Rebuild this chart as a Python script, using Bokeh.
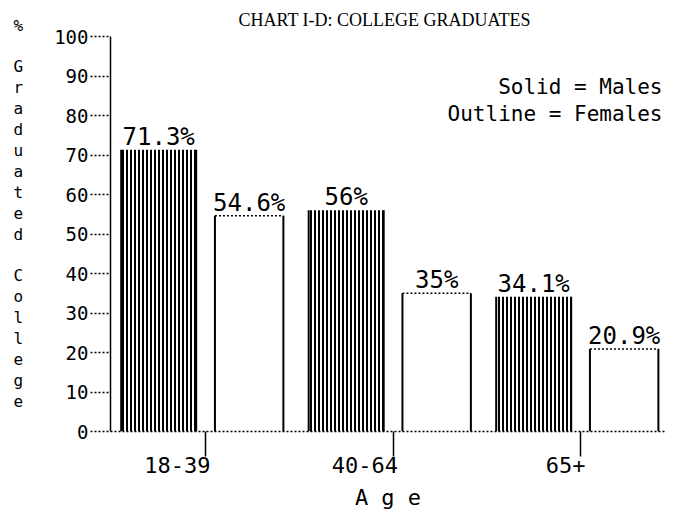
from bokeh.plotting import figure
from bokeh.models import FixedTicker, Range1d, ColumnDataSource, LinearAxis
from bokeh.core.properties import value
from bokeh.embed import file_html
from bokeh.resources import INLINE

# ---- data ----
ages = ["18-39", "40-64", "65+"]
males = [71.3, 56.0, 34.1]
females = [54.6, 35.0, 20.9]
y_ticks = [0, 10, 20, 30, 40, 50, 60, 70, 80, 90, 100]

title_text = "CHART I-D: COLLEGE GRADUATES"
legend_lines = ["Solid = Males", "Outline = Females"]
y_label_top = "%"
y_label = "Graduated College"
x_label = "A g e"

MONO = "DejaVu Sans Mono"

W, H = 692, 517
FL, FR, FT, FB = 110, 665, 34, 431   # frame edges in canvas pixels
X0, X1 = 0.493, 3.453
PPU = (FR - FL) / (X1 - X0)          # pixels per x unit
PPY = (FB - FT) / 100.0

p = figure(width=W, height=H, output_backend="svg", toolbar_location=None,
           x_range=Range1d(X0, X1), y_range=Range1d(0, 100),
           min_border_left=FL, min_border_right=W - FR, min_border_top=FT,
           min_border_bottom=H - FB)
p.outline_line_color = None
p.grid.visible = False
p.background_fill_color = "white"
p.border_fill_color = "white"

# title
p.title.text = title_text
p.title.text_font = "Liberation Serif"
p.title.text_font_size = "18px"
p.title.text_font_style = "normal"
p.title.text_color = "black"
p.title.align = "left"
p.title.offset = 128
p.title.standoff = 14

pos = [i + 1 for i in range(len(ages))]

m_off, m_w = -0.25, 0.40
f_off, f_w = 0.2325, 0.365
xm = [c + m_off for c in pos]
xf = [c + f_off for c in pos]
src_m = ColumnDataSource(dict(x=xm, top=males, l=[x - m_w / 2 for x in xm],
                              r=[x + m_w / 2 for x in xm], zero=[0] * 3,
                              lab=[f"{v:g}%" for v in males]))
src_f = ColumnDataSource(dict(x=xf, top=females, l=[x - f_w / 2 for x in xf],
                              r=[x + f_w / 2 for x in xf], zero=[0] * 3,
                              lab=[f"{v:g}%" for v in females]))

# male bars (hatched)
p.vbar(x="x", width=m_w, top="top", bottom=0, source=src_m, fill_color="white",
       line_color=None, hatch_pattern="|", hatch_color="black", hatch_scale=4,
       hatch_weight=2)
p.segment(x0="l", y0="zero", x1="l", y1="top", source=src_m, line_color="black", line_width=2)
p.segment(x0="r", y0="zero", x1="r", y1="top", source=src_m, line_color="black", line_width=2)

# female bars (outline)
p.vbar(x="x", width=f_w, top="top", bottom=0, source=src_f, fill_color="white",
       line_color=None)
p.segment(x0="l", y0="zero", x1="l", y1="top", source=src_f, line_color="black", line_width=2)
p.segment(x0="r", y0="zero", x1="r", y1="top", source=src_f, line_color="black", line_width=2)
p.segment(x0="l", y0="top", x1="r", y1="top", source=src_f, line_color="black",
          line_width=1.5, line_dash="2 2")

# value labels
for s in (src_m, src_f):
    p.text(x="x", y="top", text="lab", source=s, text_align="center",
           text_baseline="bottom", y_offset=1, text_font=value(MONO),
           text_font_size="24px", text_color="black")

# legend text (inside the frame, top right)
leg_x = X1 - 3 / PPU
p.text(x=[leg_x, leg_x], y=[100 - (85 - FT) / PPY, 100 - (112 - FT) / PPY],
       text=legend_lines, text_align="right", text_baseline="middle",
       text_font=value(MONO), text_font_size="21px", text_color="black")

# y axis
ya = p.yaxis[0]
ya.ticker = FixedTicker(ticks=y_ticks)
ya.major_tick_out = 20
ya.major_tick_in = 0
ya.minor_tick_line_color = None
ya.major_tick_line_dash = "2 2"
ya.major_tick_line_width = 1.5
ya.axis_line_width = 1.5
ya.major_label_standoff = 2
ya.major_label_text_font = MONO
ya.major_label_text_font_size = "19px"
ya.major_label_text_color = "black"
ya.axis_label = "\n".join([y_label_top, " "] + list(y_label) + [" ", " "])
ya.axis_label_orientation = "horizontal"
ya.axis_label_text_font = MONO
ya.axis_label_text_font_size = "16px"
ya.axis_label_text_font_style = "normal"
ya.axis_label_text_line_height = 1.10
ya.axis_label_text_color = "black"
ya.axis_label_standoff = 28

# x axis (ticks at group centres)
xa = p.xaxis[0]
xa.ticker = FixedTicker(ticks=pos)
xa.major_tick_out = 25
xa.major_tick_in = 0
xa.minor_tick_line_color = None
xa.major_tick_line_width = 1.5
xa.axis_line_dash = "2 2"
xa.axis_line_width = 1.5
xa.major_label_standoff = 0
xa.major_label_text_font_size = "0px"
xa.major_label_overrides = {c: "" for c in pos}

# second x axis carrying the group labels, right-aligned to the ticks
CW = 0.602 * 22
lab_pos = [c + (5 - len(t) * CW / 2) / PPU for c, t in zip(pos, ages)]
xa2 = LinearAxis(ticker=FixedTicker(ticks=lab_pos),
                 major_label_overrides={lp: t for lp, t in zip(lab_pos, ages)},
                 axis_line_color=None, major_tick_line_color=None,
                 minor_tick_line_color=None, major_tick_out=0, major_tick_in=0,
                 minor_tick_out=0, minor_tick_in=0,
                 major_label_standoff=0, major_label_text_font=MONO,
                 major_label_text_font_size="22px", major_label_text_color="black",
                 axis_label=x_label, axis_label_text_font=MONO,
                 axis_label_text_font_size="22px", axis_label_text_font_style="normal",
                 axis_label_text_color="black", axis_label_standoff=9)
p.add_layout(xa2, "below")

open("out.html", "w").write(file_html(p, INLINE))
